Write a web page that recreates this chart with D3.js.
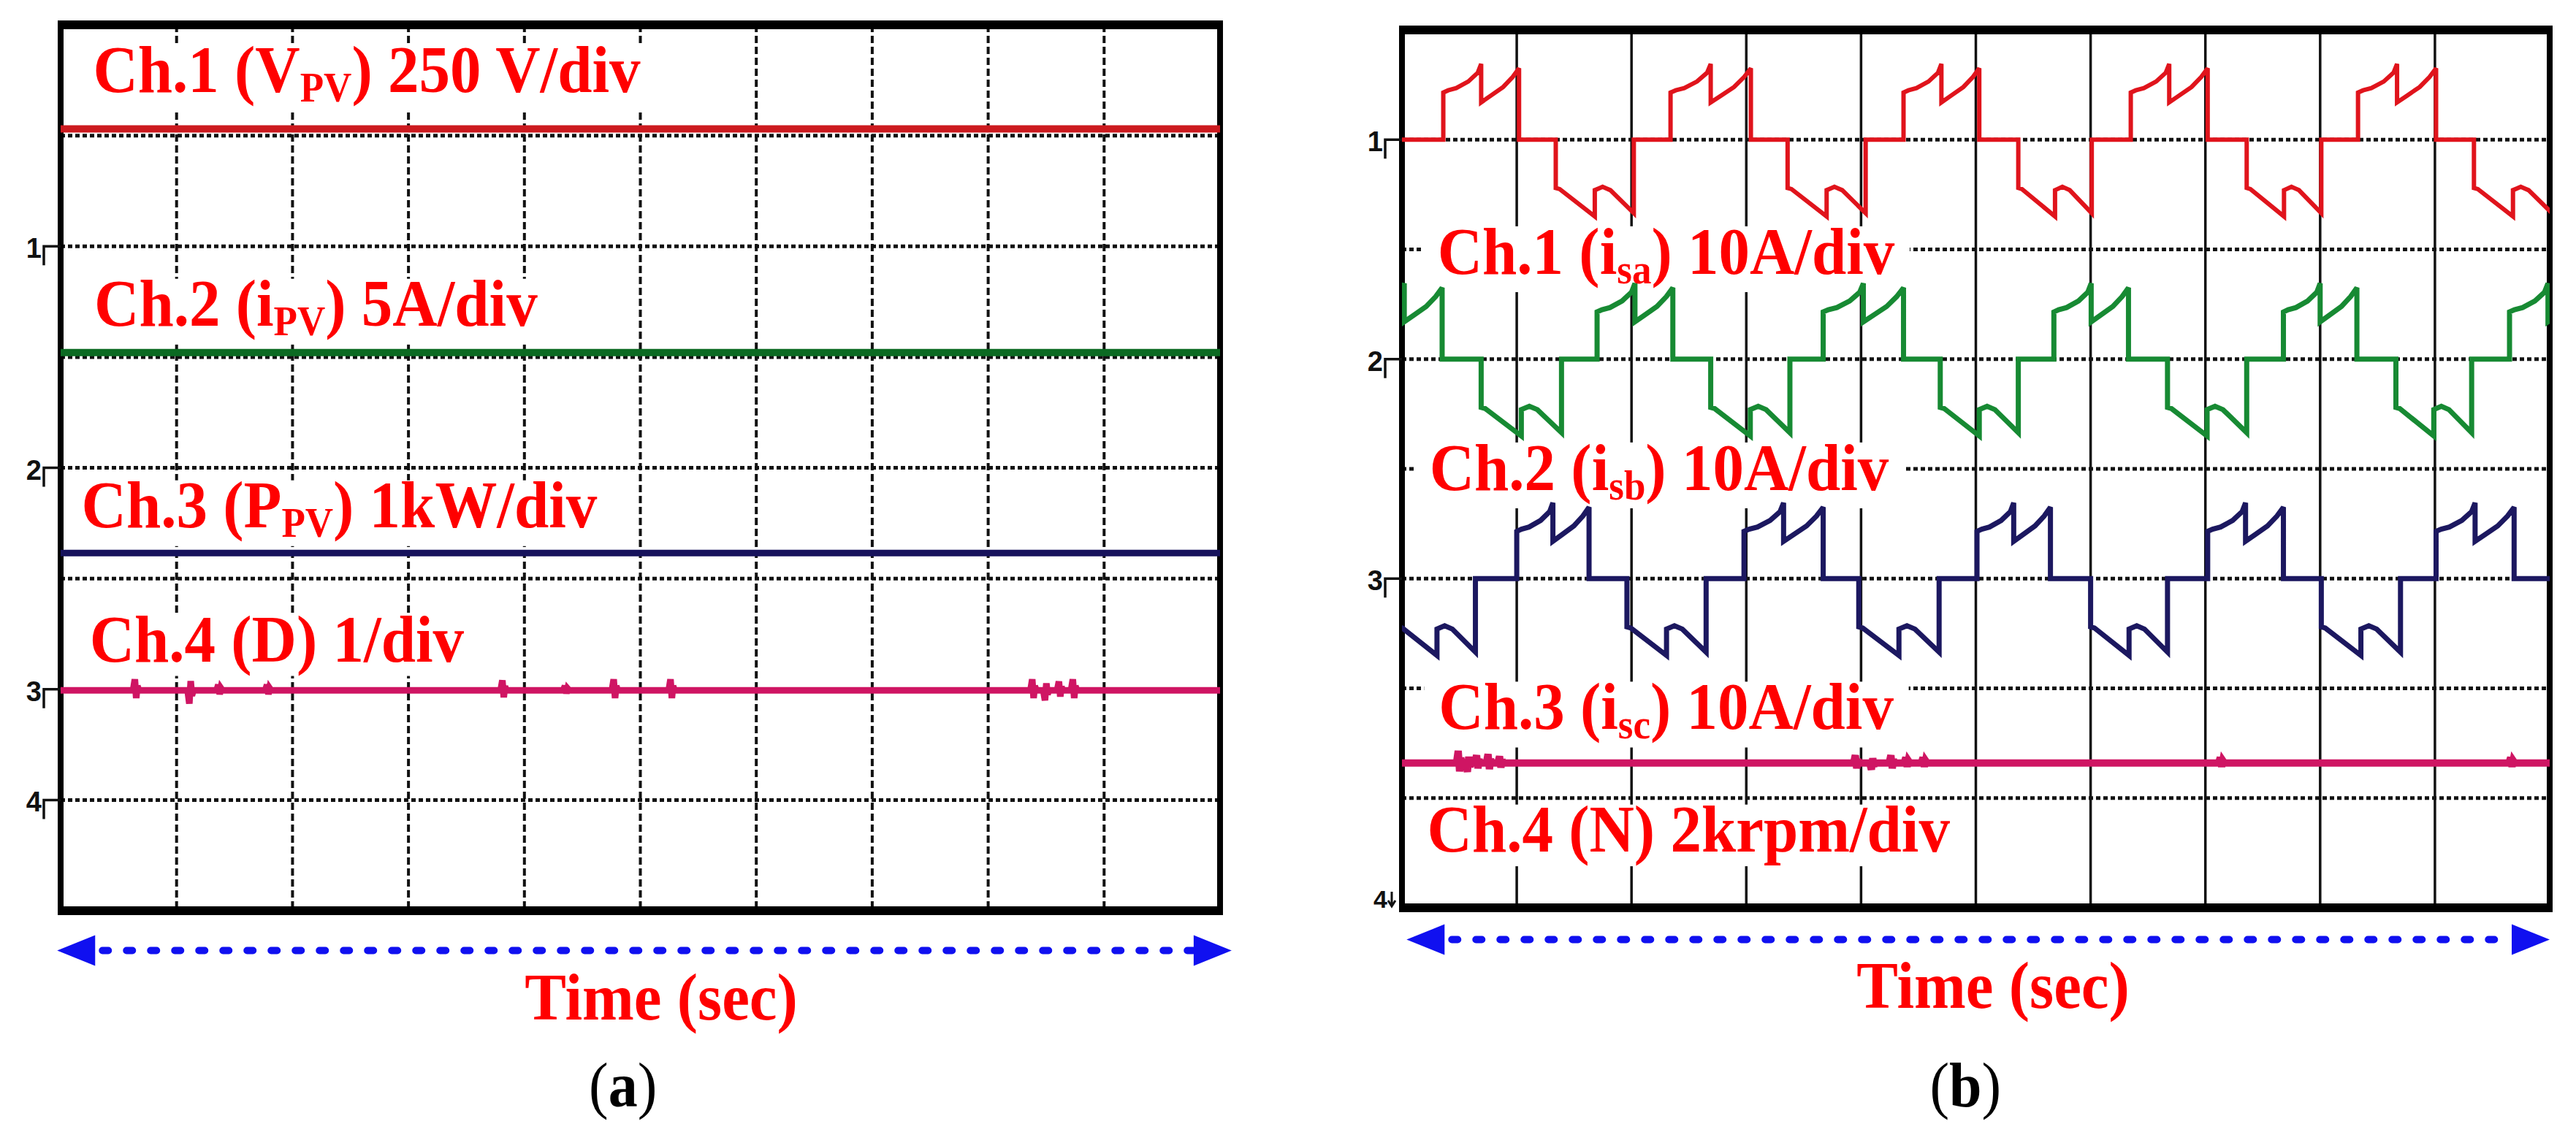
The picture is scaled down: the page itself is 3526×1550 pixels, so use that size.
<!DOCTYPE html>
<html>
<head>
<meta charset="utf-8">
<script src="https://cdn.jsdelivr.net/npm/d3@7"></script>
<style>
  body { margin: 0; background: #fff; }
  svg { display: block; }
</style>
</head>
<body>
<div id="chart"></div>
<script>
// ---------- panel (a): PV side, flat traces ----------
const pvLabels = [
    ["Ch.1 (", "V", "PV", ") 250 V/div"],
    ["Ch.2 (", "i", "PV", ") 5A/div"],
    ["Ch.3 (", "P", "PV", ") 1kW/div"],
    ["Ch.4 (", "D", "", ") 1/div"]
];
const pvMarkers = ["1", "2", "3", "4"];
const pvRefs = [2, 4, 6, 7];            // ground marker of each channel (div from top)
const pvPerDiv = [250, 5, 1, 1];         // V, A, kW, -
const pvLevels = [265, 5.2, 1.23, 0.99]; // steady value of each channel
// small ripples on the duty trace: [time (div), amplitude]
const dutyGlitches = [
    [0.65, 0.10], [1.12, -0.12], [1.37, 0.05], [1.79, 0.05],
    [3.82, 0.09], [4.36, 0.04], [4.78, 0.10], [5.27, 0.10],
    [8.39, 0.10], [8.50, -0.09], [8.62, 0.08], [8.74, 0.10]
];

// ---------- panel (b): motor side ----------
const motorLabels = [
    ["Ch.1 (", "i", "sa", ") 10A/div"],
    ["Ch.2 (", "i", "sb", ") 10A/div"],
    ["Ch.3 (", "i", "sc", ") 10A/div"],
    ["Ch.4 (", "N", "", ") 2krpm/div"]
];
const motorMarkers = ["1", "2", "3", "4"];
const motorRefs = [1, 3, 5, 8];
const motorPerDiv = [10, 10, 10, 2];     // A, A, A, krpm

// current half-cycles [start, end] in time divisions
const isaPos = [[0.36, 1.02], [2.34, 3.04], [4.37, 5.03], [6.35, 7.02], [8.33, 9.01]];
const isaNeg = [[1.34, 2.02], [3.36, 4.04], [5.37, 6.01], [7.36, 8.01], [9.34, 10.02]];
const isbPos = [[-0.31, 0.35], [1.70, 2.36], [3.67, 4.37], [5.68, 6.33], [7.68, 8.32], [9.65, 10.32]];
const isbNeg = [[0.69, 1.39], [2.69, 3.38], [4.69, 5.37], [6.67, 7.36], [8.66, 9.32]];
const iscPos = [[1.00, 1.63], [2.98, 3.67], [5.01, 5.65], [7.02, 7.68], [9.01, 9.69]];
const iscNeg = [[-0.03, 0.64], [1.96, 2.65], [3.98, 4.68], [6.00, 6.67], [8.01, 8.70]];

// shape of one 60 degree hump: [fraction of hump, current (A)]
const posHump1 = [[0, 4.3], [0.13, 4.5], [0.34, 4.7], [0.66, 5.3], [0.91, 6.1], [1, 6.9]];
const posHump2 = [[0, 3.4], [0.25, 4.0], [0.58, 4.8], [0.83, 5.7], [1, 6.5]];
const negHump1 = [[0, -4.4], [0.1, -4.5], [1, -7.0]];
const negHump2 = [[0, -4.6], [0.2, -4.3], [0.4, -4.6], [1, -6.7]];

const speedLevel = 2.64; // krpm
const speedGlitches = [
    [0.50, 0.22], [0.58, -0.16], [0.66, 0.14], [0.76, 0.16], [0.86, 0.12],
    [3.96, 0.14], [4.10, -0.12], [4.27, 0.14], [4.40, 0.10], [4.55, 0.10],
    [7.14, 0.10], [9.67, 0.10]
];

// ---------- layout ----------
const width = 3526, height = 1550;
const labelFont = "'Liberation Serif', 'Times New Roman', serif";
const stretch = 1.08; // the scope text is a bit taller than plain Times

const svg = d3.select("#chart").append("svg")
    .attr("width", width)
    .attr("height", height)
    .style("background", "#fff");

function glitchPoints(level, glitches) {
    const pts = [[-0.5, level]];
    glitches.forEach(([t, a]) => {
        pts.push([t - 0.025, level], [t - 0.01, level + a], [t + 0.002, level - a * 0.7],
                 [t + 0.012, level + a * 0.4], [t + 0.025, level]);
    });
    pts.push([10.5, level]);
    return pts;
}

function phasePoints(pos, neg) {
    const halves = pos.map(h => ({ s: h[0], e: h[1], shape: [posHump1, posHump2] }))
        .concat(neg.map(h => ({ s: h[0], e: h[1], shape: [negHump1, negHump2] })))
        .sort((a, b) => a.s - b.s);
    const pts = [[-1, 0]];
    halves.forEach(h => {
        const mid = (h.s + h.e) / 2;
        pts.push([h.s, 0]);
        h.shape.forEach((hump, k) => {
            const s = k ? mid : h.s, e = k ? h.e : mid;
            hump.forEach(p => pts.push([s + p[0] * (e - s), p[1]]));
        });
        pts.push([h.e, 0]);
    });
    pts.push([11, 0]);
    return pts;
}

function serifText(g, px, py, size) {
    return g.append("text")
        .attr("transform", `translate(${px},${py}) scale(1,${stretch})`)
        .attr("font-family", labelFont)
        .attr("font-size", size);
}

function drawPanel(cfg) {
    const x = d3.scaleLinear().domain([0, 10]).range([cfg.left, cfg.right]);
    const y = d3.scaleLinear().domain([0, 8]).range([cfg.top, cfg.bottom]);

    const gridG = svg.append("g");
    const boxG = svg.append("g");
    const traceG = svg.append("g");
    const textG = svg.append("g");

    // grid
    gridG.selectAll(".vgrid").data(d3.range(1, 10)).join("line")
        .attr("x1", d => x(d)).attr("x2", d => x(d))
        .attr("y1", y(0)).attr("y2", y(8))
        .attr("stroke", "#111")
        .attr("stroke-width", cfg.dashedV ? 4 : 3.5)
        .attr("stroke-dasharray", cfg.dashedV ? "10 5" : null);

    gridG.selectAll(".hgrid").data(d3.range(1, 8)).join("line")
        .attr("x1", x(0)).attr("x2", x(10))
        .attr("y1", d => y(d)).attr("y2", d => y(d))
        .attr("stroke", "#111")
        .attr("stroke-width", 5)
        .attr("stroke-dasharray", "6 4");

    // frame
    gridG.append("rect")
        .attr("x", x(0)).attr("y", y(0))
        .attr("width", x(10) - x(0)).attr("height", y(8) - y(0))
        .attr("fill", "none").attr("stroke", "#000").attr("stroke-width", 8);
    [0, 8].forEach(d => {
        gridG.append("line")
            .attr("x1", x(0) - 4).attr("x2", x(10) + 4)
            .attr("y1", y(d)).attr("y2", y(d))
            .attr("stroke", "#000").attr("stroke-width", 12);
    });

    // channel ground markers on the left
    const markerFont = "'Liberation Sans Narrow', 'Liberation Sans', Arial, sans-serif";
    cfg.refs.forEach((r, i) => {
        const yy = y(r), x0 = x(0);
        if (r >= 8) {
            gridG.append("text")
                .attr("x", x0 - 20).attr("y", yy)
                .attr("text-anchor", "end")
                .attr("font-family", markerFont)
                .attr("font-weight", "bold").attr("font-size", 34).attr("fill", "#111")
                .text(cfg.markers[i]);
            gridG.append("path")
                .attr("d", `M${x0 - 14},${yy - 22} L${x0 - 14},${yy - 4} M${x0 - 19},${yy - 10} L${x0 - 14},${yy - 2} L${x0 - 9},${yy - 10}`)
                .attr("fill", "none").attr("stroke", "#111").attr("stroke-width", 3);
        } else {
            gridG.append("text")
                .attr("x", x0 - 26).attr("y", yy + 16)
                .attr("text-anchor", "end")
                .attr("font-family", markerFont)
                .attr("font-weight", "bold").attr("font-size", 38).attr("fill", "#111")
                .text(cfg.markers[i]);
            gridG.append("path")
                .attr("d", `M${x0},${yy} L${x0 - 23},${yy} L${x0 - 23},${yy + 26}`)
                .attr("fill", "none").attr("stroke", "#111").attr("stroke-width", 3.5);
        }
    });

    // traces
    const clipId = "clip-" + cfg.id;
    svg.append("clipPath").attr("id", clipId)
        .append("rect")
        .attr("x", x(0)).attr("y", y(0))
        .attr("width", x(10) - x(0)).attr("height", y(8) - y(0));
    traceG.attr("clip-path", `url(#${clipId})`);

    cfg.traces.forEach(t => {
        const line = d3.line()
            .x(d => x(d[0]))
            .y(d => y(t.ref - d[1] / t.perDiv));
        traceG.append("path")
            .datum(t.points)
            .attr("d", line)
            .attr("fill", "none")
            .attr("stroke", t.color)
            .attr("stroke-width", t.width)
            .attr("stroke-linejoin", "miter")
            .attr("stroke-miterlimit", 3);
    });

    // channel labels on white boxes (box hides the grid behind the text)
    cfg.labels.forEach((parts, i) => {
        const [lx, ly] = cfg.labelPos[i];
        const txt = serifText(textG, x(lx), y(ly), 85)
            .attr("font-weight", "bold")
            .attr("fill", "#ff0000");
        txt.append("tspan").text(parts[0] + parts[1]);
        if (parts[2]) {
            txt.append("tspan").attr("font-size", 53).attr("dy", 12).text(parts[2]);
            txt.append("tspan").attr("dy", -12).text(parts[3]);
        } else {
            txt.append("tspan").text(parts[3]);
        }
        const bb = txt.node().getBBox();
        const inset = 16;
        boxG.append("rect")
            .attr("transform", txt.attr("transform"))
            .attr("x", bb.x - 20).attr("y", bb.y + inset)
            .attr("width", bb.width + 40).attr("height", bb.height - inset)
            .attr("fill", "#fff");
    });

    // time arrow
    const ay = y(cfg.arrowY);
    const a0 = x(cfg.arrowFrom), a1 = x(cfg.arrowTo);
    textG.append("line")
        .attr("x1", a0 + 62).attr("x2", a1 - 52)
        .attr("y1", ay).attr("y2", ay)
        .attr("stroke", "#1010f0").attr("stroke-width", 10)
        .attr("stroke-linecap", "round")
        .attr("stroke-dasharray", "8 25");
    textG.append("path")
        .attr("d", `M${a0},${ay} L${a0 + 52},${ay - 21} L${a0 + 52},${ay + 21} Z`)
        .attr("fill", "#1010f0");
    textG.append("path")
        .attr("d", `M${a1},${ay} L${a1 - 52},${ay - 21} L${a1 - 52},${ay + 21} Z`)
        .attr("fill", "#1010f0");

    serifText(textG, x(cfg.timeX), y(cfg.timeY), 85)
        .attr("text-anchor", "middle")
        .attr("font-weight", "bold")
        .attr("fill", "#ff0000")
        .text("Time (sec)");

    const cap = serifText(textG, x(cfg.capX), y(cfg.capY), 80)
        .attr("text-anchor", "middle")
        .attr("fill", "#000");
    cap.append("tspan").text("(");
    cap.append("tspan").attr("font-weight", "bold").text(cfg.caption);
    cap.append("tspan").text(")");
}

// panel (a)
drawPanel({
    id: "a", left: 83, right: 1670, top: 34, bottom: 1247, dashedV: true,
    refs: pvRefs, markers: pvMarkers, labels: pvLabels,
    labelPos: [[0.28, 0.61], [0.29, 2.72], [0.18, 4.54], [0.25, 5.75]],
    traces: [
        { ref: pvRefs[0], perDiv: pvPerDiv[0], color: "#cc1a1f", width: 10, points: [[0, pvLevels[0]], [10, pvLevels[0]]] },
        { ref: pvRefs[1], perDiv: pvPerDiv[1], color: "#0b6a22", width: 10, points: [[0, pvLevels[1]], [10, pvLevels[1]]] },
        { ref: pvRefs[2], perDiv: pvPerDiv[2], color: "#16125c", width: 9, points: [[0, pvLevels[2]], [10, pvLevels[2]]] },
        { ref: pvRefs[3], perDiv: pvPerDiv[3], color: "#cf1563", width: 9, points: glitchPoints(pvLevels[3], dutyGlitches) }
    ],
    arrowY: 8.36, arrowFrom: -0.03, arrowTo: 10.1,
    timeX: 5.18, timeY: 8.98, capX: 4.85, capY: 9.77, caption: "a"
});

// panel (b)
drawPanel({
    id: "b", left: 1919, right: 3490, top: 41, bottom: 1243, dashedV: false,
    refs: motorRefs, markers: motorMarkers, labels: motorLabels,
    labelPos: [[0.31, 2.22], [0.24, 4.19], [0.32, 6.37], [0.22, 7.49]],
    traces: [
        { ref: motorRefs[0], perDiv: motorPerDiv[0], color: "#e0141c", width: 6, points: phasePoints(isaPos, isaNeg) },
        { ref: motorRefs[1], perDiv: motorPerDiv[1], color: "#178a33", width: 7, points: phasePoints(isbPos, isbNeg) },
        { ref: motorRefs[2], perDiv: motorPerDiv[2], color: "#1c1860", width: 7, points: phasePoints(iscPos, iscNeg) },
        { ref: motorRefs[3], perDiv: motorPerDiv[3], color: "#cf1563", width: 10, points: glitchPoints(speedLevel, speedGlitches) }
    ],
    arrowY: 8.29, arrowFrom: 0.04, arrowTo: 10.0,
    timeX: 5.15, timeY: 8.91, capX: 4.91, capY: 9.81, caption: "b"
});
</script>
</body>
</html>
